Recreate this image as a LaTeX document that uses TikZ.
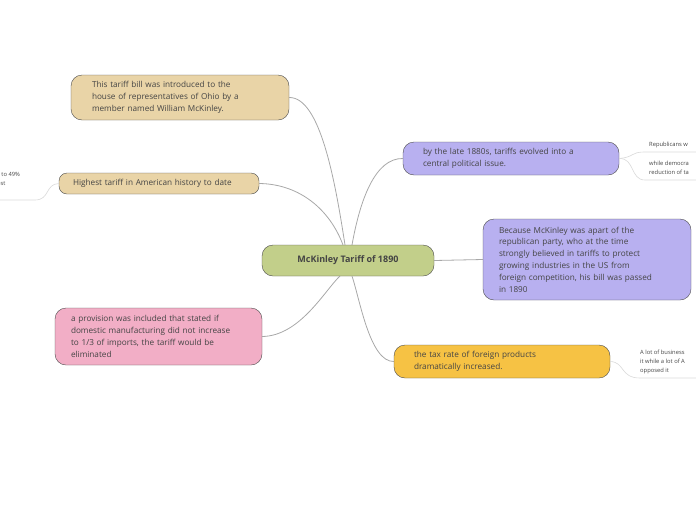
\documentclass[tikz,border=0pt]{standalone}
\usepackage{fontspec}
\setmainfont{Open Sans}
\definecolor{tanfill}{HTML}{E9D4A7}
\definecolor{greenfill}{HTML}{C2CF8A}
\definecolor{pinkfill}{HTML}{F2AEC6}
\definecolor{purplefill}{HTML}{B8B0F0}
\definecolor{orangefill}{HTML}{F6C244}
\definecolor{linkgray}{HTML}{A8A8A8}
\definecolor{textgray}{HTML}{444444}
\tikzset{
  topic/.style={draw=black!70, rounded corners=11pt, inner sep=0pt, text=textgray, font=\fontsize{8.2}{11.8}\selectfont, align=left},
  note/.style={anchor=west, inner sep=0pt, text=textgray, font=\fontsize{5.8}{9}\selectfont, align=left},
  link/.style={draw=linkgray, line width=0.8pt},
  thin link/.style={draw=black!15, line width=0.6pt}
}
\begin{document}
\begin{tikzpicture}[x=1pt, y=-1pt]
    \useasboundingbox (0,0) rectangle (696,520);
    \clip (0,0) rectangle (696,520);

    % Central topic
    \node[topic, fill=greenfill, minimum width=172pt, minimum height=31pt, font=\fontsize{9}{11}\selectfont\bfseries] (root) at (348,260.5) {McKinley Tariff of 1890};

    % Left branches
    \node[topic, fill=tanfill, minimum width=218pt, minimum height=45pt, text width=176pt] (intro) at (180,97.5) {This tariff bill was introduced to the\\house of representatives of Ohio by a\\member named William McKinley.};
    \node[topic, fill=tanfill, minimum width=200pt, minimum height=21pt, text width=172pt, rounded corners=8pt] (highest) at (159,183.5) {Highest tariff in American history to date};
    \node[topic, fill=pinkfill, minimum width=207pt, minimum height=57pt, text width=175pt] (provision) at (158.5,336.5) {a provision was included that stated if\\domestic manufacturing did not increase\\to 1/3 of imports, the tariff would be\\eliminated};

    % Right branches
    \node[topic, fill=purplefill, minimum width=216pt, minimum height=33pt, text width=176pt] (issue) at (511,158.5) {by the late 1880s, tariffs evolved into a\\central political issue.};
    \node[topic, fill=purplefill, minimum width=208pt, minimum height=81pt, text width=176pt] (party) at (587,259.5) {Because McKinley was apart of the\\republican party, who at the time\\strongly believed in tariffs to protect\\growing industries in the US from\\foreign competition, his bill was passed\\in 1890};
    \node[topic, fill=orangefill, minimum width=216pt, minimum height=33pt, text width=176pt] (rate) at (502,361.5) {the tax rate of foreign products\\dramatically increased.};

    % Small notes
    \node[note] (percent) at (-3,178.5) {s to 49\%\\ost};
    \node[note] (repub) at (649,145) {Republicans w};
    \node[note] (democ) at (649,167.5) {while democra\\reduction of ta};
    \node[note] (business) at (640,361.5) {A lot of business\\it while a lot of A\\opposed it};

    \coordinate (percentend) at (0,200);
    \coordinate (repubend) at (696,152);
    \coordinate (democend) at (696,180);
    \coordinate (businessend) at (696,378);

    % Connectors
    \draw[link] (intro.east) .. controls (320,97) and (335,180) .. (345,245);
    \draw[link] (highest.east) .. controls (300,184) and (330,210) .. (343,245);
    \draw[link] (provision.east) .. controls (300,336) and (325,290) .. (340,276);
    \draw[link] (issue.west) .. controls (375,158) and (360,200) .. (352,245);
    \draw[link] (root.east) -- (party.west);
    \draw[link] (rate.west) .. controls (370,362) and (360,300) .. (352,276);

    \draw[thin link] (highest.west) .. controls (45,184) and (50,200) .. (35,200) -- (percentend);
    \draw[thin link] (issue.east) .. controls (635,157) and (630,152) .. (645,152) -- (repubend);
    \draw[thin link] (issue.east) .. controls (635,158) and (630,180) .. (645,180) -- (democend);
    \draw[thin link] (rate.east) .. controls (625,362) and (620,378) .. (640,378) -- (businessend);
\end{tikzpicture}
\end{document}
